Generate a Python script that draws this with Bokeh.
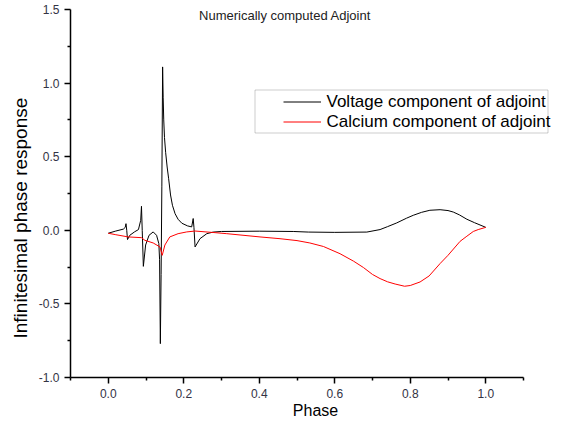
from bokeh.plotting import figure
from bokeh.models import (Range1d, FixedTicker, Label, Legend, LegendItem,
                          BoxAnnotation, Title)
from bokeh.embed import file_html
from bokeh.resources import INLINE

# ---- data ----
volt_phase = [0.0, 0.02, 0.04, 0.045, 0.047, 0.049, 0.051, 0.057, 0.07, 0.08,
              0.086, 0.088, 0.09, 0.093, 0.099, 0.108, 0.119, 0.128, 0.134, 0.136,
              0.138, 0.14, 0.142, 0.144, 0.1455, 0.147, 0.149, 0.152, 0.156, 0.160,
              0.165, 0.170, 0.177, 0.185, 0.195, 0.21, 0.221, 0.225, 0.227, 0.23,
              0.243, 0.261, 0.278, 0.3, 0.4, 0.49, 0.53, 0.6, 0.685, 0.72,
              0.74, 0.764, 0.79, 0.808, 0.83, 0.852, 0.879, 0.90, 0.914, 0.93,
              0.95, 0.97, 1.0]
volt_value = [-0.02, -0.005, 0.008, 0.02, 0.045, 0.0, -0.063, -0.034, -0.01, 0.005,
              0.068, 0.163, 0.0, -0.245, -0.10, -0.034, -0.011, -0.034, -0.09, -0.2,
              -0.77, -0.3, 0.3, 1.11, 0.9, 0.75, 0.63, 0.53, 0.43, 0.35,
              0.24, 0.17, 0.113, 0.075, 0.048, 0.03, 0.023, 0.08, 0.02, -0.113,
              -0.057, -0.023, -0.012, -0.008, -0.006, -0.008, -0.012, -0.014, -0.012, 0.005,
              0.025, 0.05, 0.082, 0.102, 0.122, 0.136, 0.14, 0.134, 0.124, 0.105,
              0.075, 0.052, 0.02]

calc_phase = [0.0, 0.02, 0.053, 0.088, 0.097, 0.119, 0.137, 0.143, 0.15, 0.163,
              0.185, 0.208, 0.23, 0.283, 0.314, 0.402, 0.455, 0.50, 0.534, 0.57,
              0.614, 0.65, 0.676, 0.70, 0.72, 0.74, 0.76, 0.785, 0.80, 0.826,
              0.85, 0.879, 0.90, 0.932, 0.95, 0.967, 0.98, 1.0]
calc_value = [-0.02, -0.03, -0.045, -0.05, -0.068, -0.086, -0.113, -0.17, -0.10, -0.045,
              -0.023, -0.011, -0.005, -0.016, -0.023, -0.045, -0.057, -0.07, -0.086, -0.11,
              -0.159, -0.21, -0.253, -0.30, -0.328, -0.35, -0.365, -0.38, -0.375, -0.351,
              -0.31, -0.226, -0.17, -0.075, -0.04, -0.008, 0.005, 0.02]

x_ticks = [0.0, 0.2, 0.4, 0.6, 0.8, 1.0]
x_tick_labels = ["0.0", "0.2", "0.4", "0.6", "0.8", "1.0"]
x_minor = [-0.1, 0.1, 0.3, 0.5, 0.7, 0.9, 1.1]
y_ticks = [-1.0, -0.5, 0.0, 0.5, 1.0, 1.5]
y_tick_labels = ["-1.0", "-0.5", "0.0", "0.5", "1.0", "1.5"]
y_minor = [-0.75, -0.25, 0.25, 0.75, 1.25]

title_text = "Numerically computed Adjoint"
x_label = "Phase"
y_label = "Infinitesimal phase response"
legend_labels = ["Voltage component of adjoint", "Calcium component of adjoint"]

FONT = "Liberation Sans"

# frame runs past the end of the x axis so the legend is not clipped;
# the axis line itself stops at 1.1 (bounds)
p = figure(width=570, height=421, output_backend="svg", toolbar_location=None,
           x_range=Range1d(-0.1, 1.198), y_range=Range1d(-1.0, 1.5),
           min_border_left=70, min_border_right=10, min_border_top=9,
           min_border_bottom=43)
p.outline_line_color = None
p.grid.visible = False
p.background_fill_color = "white"
p.border_fill_color = "white"

r_v = p.line(volt_phase, volt_value, line_color="black", line_width=1)
r_c = p.line(calc_phase, calc_value, line_color="#ff0000", line_width=1)

xa = p.xaxis[0]
xa.ticker = FixedTicker(ticks=x_ticks, minor_ticks=x_minor)
xa.major_label_overrides = {t: l for t, l in zip(x_ticks, x_tick_labels)}
xa.bounds = (-0.1, 1.1)
ya = p.yaxis[0]
ya.ticker = FixedTicker(ticks=y_ticks, minor_ticks=y_minor)
ya.major_label_overrides = {t: l for t, l in zip(y_ticks, y_tick_labels)}

for ax in (xa, ya):
    ax.axis_line_width = 1.5
    ax.axis_line_color = "black"
    ax.major_tick_line_width = 1.5
    ax.minor_tick_line_width = 1.5
    ax.major_tick_line_color = "black"
    ax.minor_tick_line_color = "black"
    ax.major_tick_in = 0
    ax.major_tick_out = 6
    ax.minor_tick_in = 0
    ax.minor_tick_out = 3
    ax.major_label_text_font = FONT
    ax.major_label_text_font_size = "12px"
    ax.major_label_text_color = "#333344"
    ax.major_label_standoff = 5

xa.axis_label = x_label
xa.axis_label_text_font = FONT
xa.axis_label_text_font_size = "16px"
xa.axis_label_text_font_style = "normal"
xa.axis_label_text_color = "black"
xa.axis_label_standoff = 1

# y-axis title, set in the left panel and shifted down like the reference
p.add_layout(Title(text=y_label, align="left", offset=39, standoff=10,
                   text_font=FONT, text_font_size="19px",
                   text_font_style="normal", text_color="black"), "left")

# chart title inside the frame
p.add_layout(Label(x=214.5, y=362, x_units="screen", y_units="screen",
                   text=title_text, text_align="center", text_baseline="middle",
                   text_font=FONT, text_font_size="13px", text_color="#222222"))

# legend frame
p.add_layout(BoxAnnotation(left=184.5, right=477.5, bottom=244.5, top=287.5,
                           left_units="screen", right_units="screen",
                           bottom_units="screen", top_units="screen",
                           fill_alpha=0, line_color="#555555", line_width=1))

legend = Legend(items=[LegendItem(label=legend_labels[0], renderers=[r_v]),
                       LegendItem(label=legend_labels[1], renderers=[r_c])],
                location=(212.5, 245.3), padding=0, margin=0, spacing=0,
                glyph_width=38, glyph_height=19, label_height=19,
                label_standoff=6, border_line_color=None,
                background_fill_alpha=0, label_text_font=FONT,
                label_text_font_size="17px", label_text_color="black")
p.add_layout(legend)

open("out.html", "w").write(file_html(p, INLINE))
